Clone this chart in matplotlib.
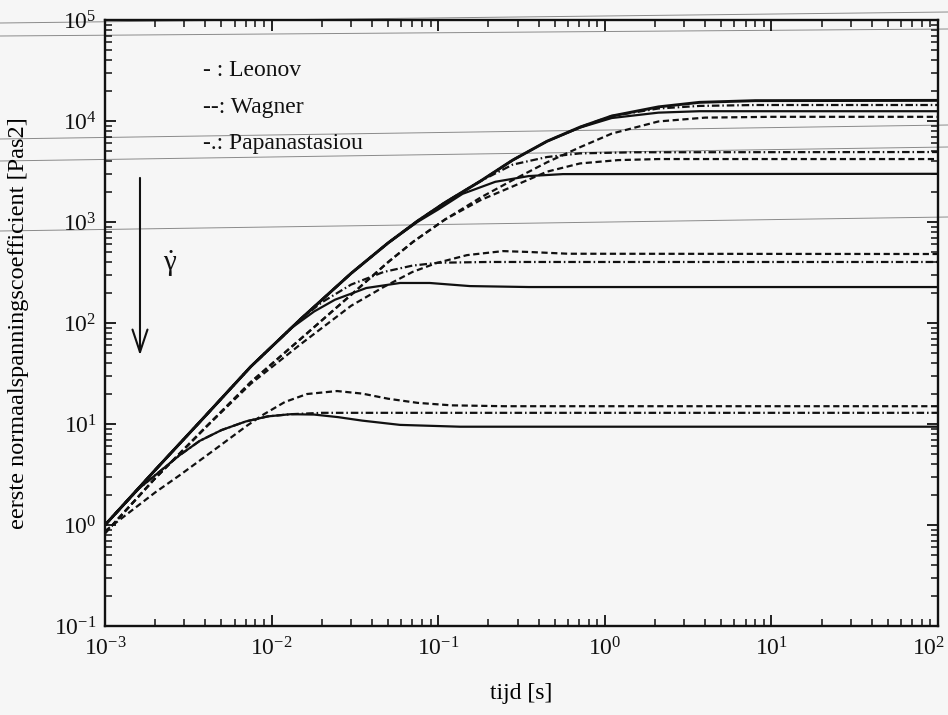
import numpy as np
import matplotlib
matplotlib.use('Agg')
import matplotlib.pyplot as plt
from matplotlib.lines import Line2D
from matplotlib.ticker import LogLocator, NullFormatter
from matplotlib.transforms import ScaledTranslation

# fonts: Times-like serif for everything, incl. the mathtext exponents
plt.rcParams['font.family'] = ['Liberation Serif', 'DejaVu Serif']
plt.rcParams['mathtext.fontset'] = 'custom'
plt.rcParams['mathtext.rm'] = 'Liberation Serif'
plt.rcParams['mathtext.it'] = 'Liberation Serif:italic'
plt.rcParams['mathtext.bf'] = 'Liberation Serif:bold'

#------------------------------------------------------------------------------
#   first normal stress coefficient growth, three models, several shear rates
#------------------------------------------------------------------------------

# Leonov (solid)
t_leonov_1   = [1e-3, 2e-3, 4e-3, 7.5e-3, 0.015, 0.03, 0.05, 0.075, 0.11, 0.18, 0.28, 0.45, 0.71, 1.1, 2.1, 3.7, 8, 100]
psi_leonov_1 = [1.0, 3.5, 12, 37, 110, 310, 620, 1020, 1560, 2550, 4100, 6300, 8700, 11200, 13800, 15300, 15900, 16000]
t_leonov_2   = [1e-3, 2e-3, 4e-3, 7.5e-3, 0.015, 0.03, 0.05, 0.075, 0.11, 0.18, 0.28, 0.45, 0.71, 1.1, 2.1, 3.7, 100]
psi_leonov_2 = [1.0, 3.5, 12, 37, 110, 310, 620, 1020, 1560, 2550, 4100, 6300, 8600, 10700, 12100, 12500, 12500]
t_leonov_3   = [1e-3, 2e-3, 4e-3, 7.5e-3, 0.015, 0.03, 0.05, 0.075, 0.1, 0.14, 0.22, 0.35, 0.56, 100]
psi_leonov_3 = [1.0, 3.5, 12, 37, 110, 310, 620, 1000, 1330, 1900, 2500, 2850, 2980, 3000]
t_leonov_4   = [1e-3, 2e-3, 4e-3, 7.5e-3, 0.013, 0.018, 0.024, 0.037, 0.059, 0.089, 0.155, 0.35, 100]
psi_leonov_4 = [1.0, 3.5, 12, 37, 88, 130, 170, 222, 249, 249, 232, 227, 227]
t_leonov_5   = [1e-3, 1.6e-3, 2.8e-3, 3.7e-3, 5e-3, 7e-3, 0.0095, 0.013, 0.018, 0.025, 0.035, 0.059, 0.135, 100]
psi_leonov_5 = [1.0, 2.3, 4.9, 6.8, 8.7, 10.6, 11.9, 12.5, 12.4, 11.7, 10.8, 9.8, 9.4, 9.4]

# Wagner (dashed)
t_wagner_2   = [1e-3, 2e-3, 4e-3, 7.5e-3, 0.015, 0.03, 0.05, 0.071, 0.11, 0.18, 0.28, 0.45, 0.71, 1.1, 2.1, 4, 10, 100]
psi_wagner_2 = [0.83, 2.9, 9.2, 26, 70, 190, 400, 640, 1060, 1750, 2600, 3900, 5500, 7500, 9900, 10800, 11000, 11000]
t_wagner_3   = [1e-3, 2e-3, 4e-3, 7.5e-3, 0.015, 0.03, 0.05, 0.071, 0.11, 0.18, 0.28, 0.45, 0.71, 1.2, 2.1, 100]
psi_wagner_3 = [0.83, 2.9, 9.2, 26, 70, 190, 400, 640, 1060, 1650, 2250, 3150, 3800, 4100, 4200, 4200]
t_wagner_4   = [1e-3, 2e-3, 4e-3, 7.5e-3, 0.015, 0.03, 0.047, 0.07, 0.098, 0.149, 0.245, 0.35, 0.6, 100]
psi_wagner_4 = [0.83, 2.9, 9.2, 25, 62, 148, 227, 320, 393, 470, 515, 505, 485, 482]
t_wagner_5   = [1e-3, 2e-3, 2.8e-3, 4.5e-3, 7.1e-3, 0.009, 0.012, 0.0163, 0.0247, 0.035, 0.05, 0.075, 0.12, 0.25, 100]
psi_wagner_5 = [0.87, 2.1, 3.1, 5.5, 9.6, 12.5, 16.5, 19.8, 21.2, 20.0, 17.8, 16.2, 15.3, 15.0, 15.0]

# Papanastasiou (dash-dot)
t_papa_1   = [1e-3, 2e-3, 4e-3, 7.5e-3, 0.015, 0.03, 0.05, 0.075, 0.11, 0.18, 0.28, 0.45, 0.71, 1.1, 2.1, 3.7, 8, 100]
psi_papa_1 = [1.0, 3.5, 12, 37, 110, 310, 620, 1020, 1560, 2550, 4100, 6300, 8700, 11200, 13300, 14100, 14400, 14400]
t_papa_3   = [1e-3, 2e-3, 4e-3, 7.5e-3, 0.015, 0.03, 0.05, 0.075, 0.11, 0.18, 0.28, 0.45, 0.71, 1.5, 100]
psi_papa_3 = [1.0, 3.5, 12, 37, 110, 310, 620, 1020, 1560, 2550, 3700, 4400, 4780, 4900, 4930]
t_papa_4   = [1e-3, 2e-3, 4e-3, 7.5e-3, 0.015, 0.02, 0.03, 0.047, 0.07, 0.1, 0.2, 100]
psi_papa_4 = [1.0, 3.5, 12, 37, 110, 160, 240, 320, 370, 395, 402, 402]
t_papa_5   = [1e-3, 1.6e-3, 2.8e-3, 3.7e-3, 5e-3, 7e-3, 0.0095, 0.013, 0.02, 100]
psi_papa_5 = [1.0, 2.3, 4.9, 6.8, 8.7, 10.6, 11.9, 12.5, 12.9, 12.9]

legend_lines = ['- : Leonov', '--: Wagner', '-.: Papanastasiou']
x_exp = [-3, -2, -1, 0, 1, 2]
y_exp = [-1, 0, 1, 2, 3, 4, 5]

# figure
paper = '#f6f6f6'
ink = '#111111'
fig = plt.figure(figsize=(9.48, 7.15), dpi=100, facecolor=paper)
ax = fig.add_axes([105/948, 1 - 626/715, 833/948, 606/715])
ax.patch.set_alpha(0)

lw = 1.6
dash = (2.8, 1.6)
dashdot = (3.4, 1.3, 0.7, 1.3)

ax.plot(t_leonov_1, psi_leonov_1, color=ink, lw=2.1)
for t, p in [(t_leonov_2, psi_leonov_2), (t_leonov_3, psi_leonov_3),
             (t_leonov_4, psi_leonov_4), (t_leonov_5, psi_leonov_5)]:
    ax.plot(t, p, color=ink, lw=lw)
for t, p in [(t_wagner_2, psi_wagner_2), (t_wagner_3, psi_wagner_3),
             (t_wagner_4, psi_wagner_4), (t_wagner_5, psi_wagner_5)]:
    ax.plot(t, p, color=ink, lw=lw, dashes=dash)
for t, p in [(t_papa_1, psi_papa_1), (t_papa_3, psi_papa_3),
             (t_papa_4, psi_papa_4), (t_papa_5, psi_papa_5)]:
    ax.plot(t, p, color=ink, lw=lw, dashes=dashdot)

ax.set_xscale('log')
ax.set_yscale('log')
ax.set_xlim(1e-3, 1e2)
ax.set_ylim(1e-1, 1e5)

ax.set_xticks([10.0**e for e in x_exp], labels=[r'$10^{%d}$' % e for e in x_exp])
ax.set_yticks([10.0**e for e in y_exp], labels=[r'$10^{%d}$' % e for e in y_exp])
for axis in (ax.xaxis, ax.yaxis):
    axis.set_minor_locator(LogLocator(base=10, subs=np.arange(2, 10), numticks=100))
    axis.set_minor_formatter(NullFormatter())

ax.tick_params(which='both', direction='in', top=True, right=True, colors=ink)
ax.tick_params(which='major', length=8, width=1.3, labelsize=17)
ax.tick_params(which='minor', length=5, width=1.1)
ax.tick_params(axis='y', which='major', pad=6)
ax.tick_params(axis='x', which='major', pad=8)
for s in ax.spines.values():
    s.set_linewidth(1.7)
    s.set_color(ink)

# keep the last x label inside the figure
last = ax.get_xticklabels()[-1]
last.set_transform(last.get_transform() + ScaledTranslation(-9/100, 0, fig.dpi_scale_trans))

# axis titles
ax.set_xlabel('tijd [s]', fontsize=17)
ax.xaxis.set_label_coords(0.5, -0.111)
ax.xaxis.label.set_va('center')
ax.set_ylabel('eerste normaalspanningscoefficient [Pas2]', fontsize=17.5)
ax.yaxis.set_label_coords(-0.104, 0.5)
ax.yaxis.label.set_ha('center')
ax.yaxis.label.set_va('center')

# line style key
for txt, yy in zip(legend_lines, [0.917, 0.856, 0.797]):
    ax.text(0.118, yy, txt, transform=ax.transAxes, fontsize=17, va='center', color=ink)

# increasing shear rate arrow
ax.annotate('', xy=(0.042, 0.442), xytext=(0.042, 0.744), xycoords='axes fraction',
            arrowprops=dict(arrowstyle='->,head_length=0.9,head_width=0.3',
                            lw=1.5, color=ink, mutation_scale=18))
ax.text(0.078, 0.598, r'$\dot{\mathrm{\gamma}}$', transform=ax.transAxes,
        fontsize=21, ha='center', va='center', color=ink)

# faint ruling lines of the paper
for y0, y1 in [(23, 12), (36, 29), (139, 125), (161, 147), (231, 217)]:
    fig.add_artist(Line2D([0, 1], [1 - y0/715, 1 - y1/715], transform=fig.transFigure,
                          color='#8a8a8a', lw=0.7, zorder=-1))

fig.savefig('out.png', dpi=100, facecolor=paper)
